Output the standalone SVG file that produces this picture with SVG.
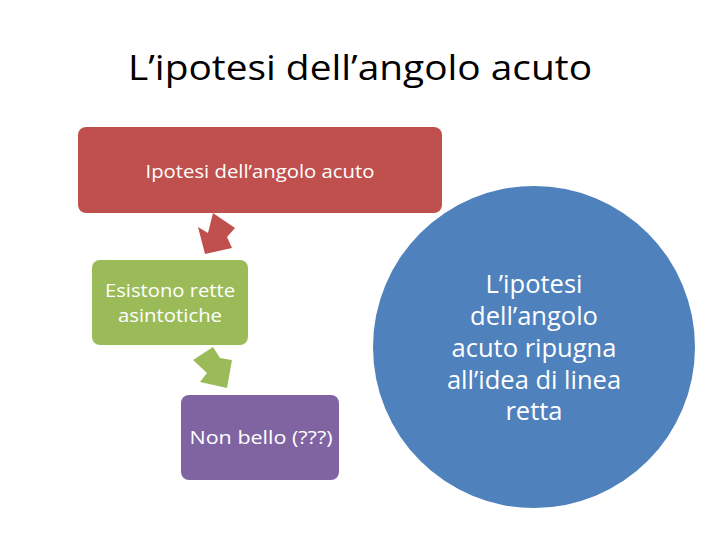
<svg xmlns="http://www.w3.org/2000/svg" width="720" height="540" viewBox="0 0 720 540">
<style>
text{font-family:"Open Sans","Liberation Sans",sans-serif;fill:#fff;text-anchor:middle}
.t{fill:#000;font-size:34px}
.r{font-size:19px}
.g{font-size:18px}
.c{font-size:25.5px}
</style>
<rect width="720" height="540" fill="#fff"/>
<text class="t" x="360" y="80" textLength="464" lengthAdjust="spacingAndGlyphs">L’ipotesi dell’angolo acuto</text>
<g id="node-blue">
<circle cx="534" cy="347" r="161" fill="#4F81BD"/>
<text class="c" x="534" y="293">L’ipotesi</text>
<text class="c" x="534" y="325">dell’angolo</text>
<text class="c" x="534" y="357">acuto ripugna</text>
<text class="c" x="534" y="389">all’idea di linea</text>
<text class="c" x="534" y="420">retta</text>
</g>
<g id="node-red">
<rect x="78" y="127" width="364" height="86" rx="8" fill="#C0504D"/>
<text class="r" x="260" y="178" textLength="229" lengthAdjust="spacingAndGlyphs">Ipotesi dell’angolo acuto</text>
</g>
<g id="connectors">
<polygon points="213,213 235,228 227,237 232,248 205,254 198,227 208,233" fill="#C0504D"/>
<polygon points="193,360 213,347 220,358 232,360 227,388 200,382 207,373" fill="#9BBB59"/>
</g>
<g id="node-green">
<rect x="92" y="260" width="156" height="85" rx="8" fill="#9BBB59"/>
<text class="g" x="170" y="297" textLength="130" lengthAdjust="spacingAndGlyphs">Esistono rette</text>
<text class="g" x="170" y="322" textLength="104" lengthAdjust="spacingAndGlyphs">asintotiche</text>
</g>
<g id="node-purple">
<rect x="181" y="395" width="158" height="85" rx="8" fill="#8064A2"/>
<text class="g" x="261" y="444" textLength="143" lengthAdjust="spacingAndGlyphs">Non bello (???)</text>
</g>
</svg>
